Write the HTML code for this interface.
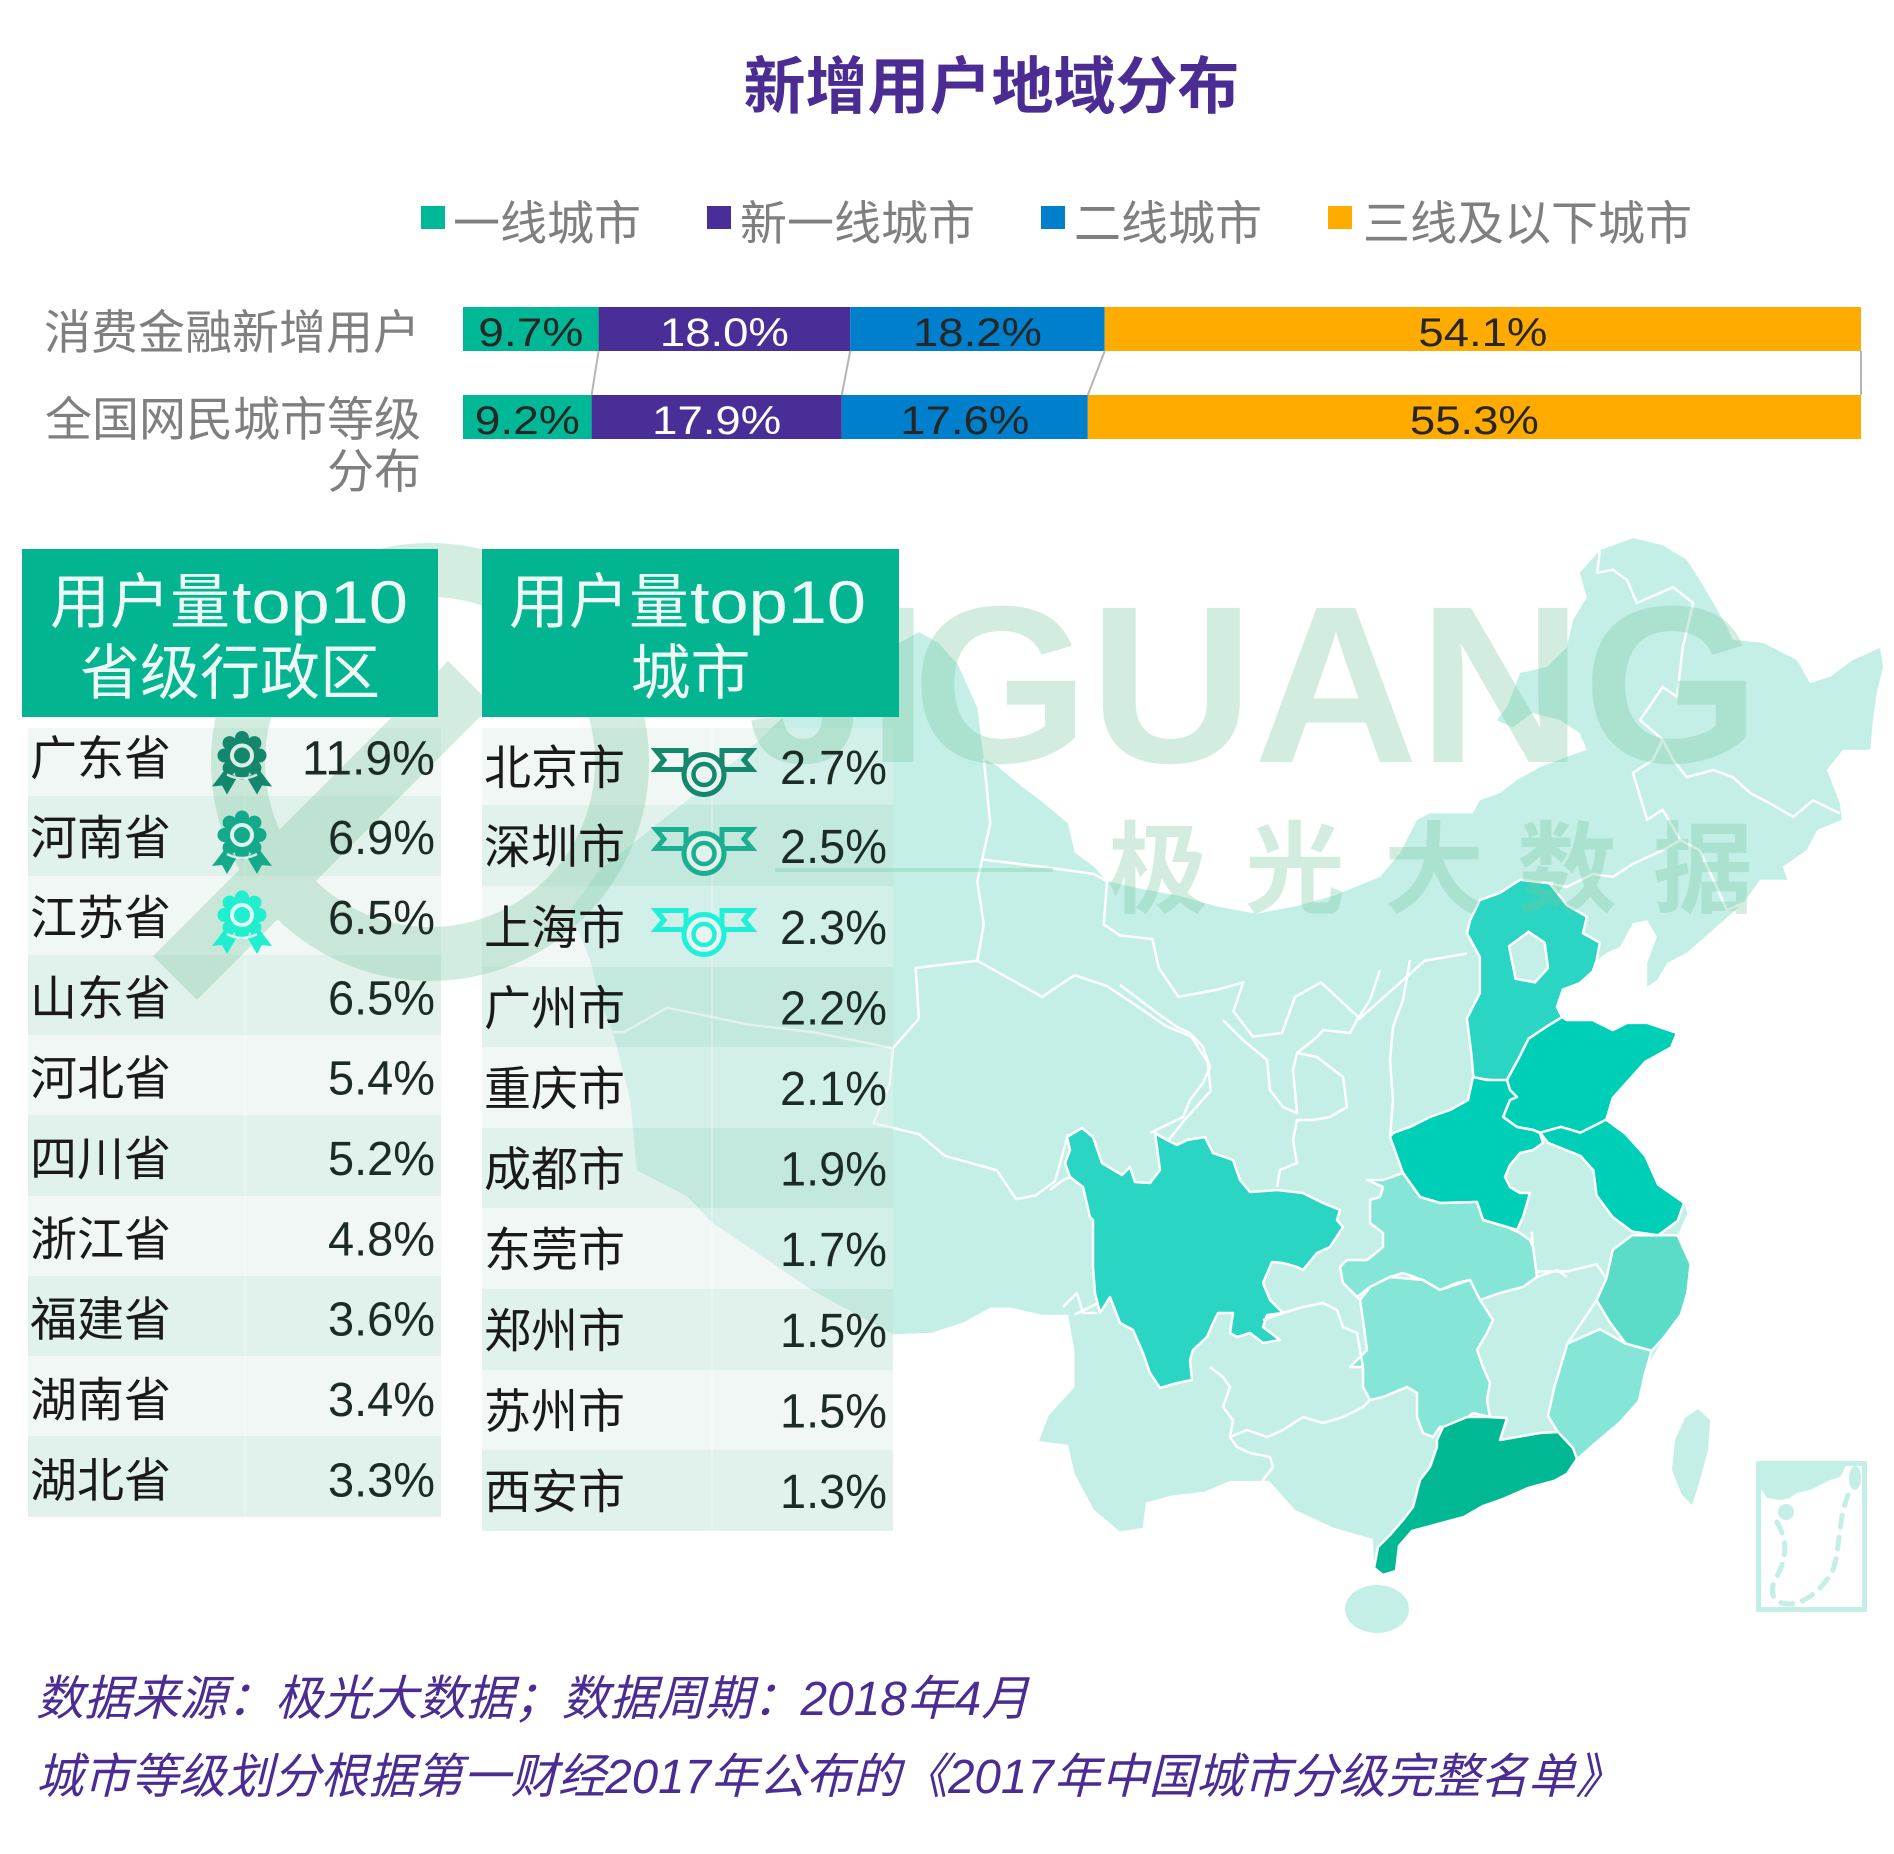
<!DOCTYPE html>
<html><head><meta charset="utf-8">
<style>
html,body{margin:0;padding:0;background:#fff;}
svg{display:block}
text{font-family:"Liberation Sans","Noto Sans CJK SC",sans-serif;}
</style></head><body>
<svg width="1894" height="1854" viewBox="0 0 1894 1854" xmlns="http://www.w3.org/2000/svg">
<rect width="1894" height="1854" fill="#fff"/>

<!-- Title -->
<text x="991.5" y="108" text-anchor="middle" font-size="62" font-weight="bold" fill="#4a2c92">新增用户地域分布</text>

<!-- Legend -->
<rect x="421" y="206" width="24" height="23" fill="#00b896"/>
<text x="453" y="240" font-size="47" fill="#7f7f7f">一线城市</text>
<rect x="707" y="206" width="24" height="23" fill="#482e96"/>
<text x="740" y="240" font-size="47" fill="#7f7f7f">新一线城市</text>
<rect x="1041" y="206" width="24" height="23" fill="#0080cc"/>
<text x="1074" y="240" font-size="47" fill="#7f7f7f">二线城市</text>
<rect x="1328" y="206" width="24" height="23" fill="#ffab00"/>
<text x="1363" y="240" font-size="47" fill="#7f7f7f">三线及以下城市</text>

<!-- Row labels -->
<text x="420" y="349" text-anchor="end" font-size="47" fill="#7f7f7f">消费金融新增用户</text>
<text x="421" y="436" text-anchor="end" font-size="47" fill="#7f7f7f">全国网民城市等级</text>
<text x="421" y="488" text-anchor="end" font-size="47" fill="#7f7f7f">分布</text>

<!-- Bars -->
<rect x="463" y="307" width="135.6" height="44" fill="#00b896"/>
<rect x="598.6" y="307" width="251.6" height="44" fill="#482e96"/>
<rect x="850.2" y="307" width="254.5" height="44" fill="#0080cc"/>
<rect x="1104.7" y="307" width="756.3" height="44" fill="#ffab00"/>
<rect x="463" y="395" width="128.6" height="44" fill="#00b896"/>
<rect x="591.6" y="395" width="250.2" height="44" fill="#482e96"/>
<rect x="841.8" y="395" width="246" height="44" fill="#0080cc"/>
<rect x="1087.8" y="395" width="773.2" height="44" fill="#ffab00"/>
<g stroke="#b5b5b5" stroke-width="2">
<line x1="598.6" y1="351" x2="591.6" y2="395"/>
<line x1="850.2" y1="351" x2="841.8" y2="395"/>
<line x1="1104.7" y1="351" x2="1087.8" y2="395"/>
<line x1="1861" y1="351" x2="1861" y2="395"/>
</g>
<g font-size="40">
<text x="478.3" y="346" textLength="105" lengthAdjust="spacingAndGlyphs" fill="#262626">9.7%</text>
<text x="659.9" y="346" textLength="129" lengthAdjust="spacingAndGlyphs" fill="#ffffff">18.0%</text>
<text x="913" y="346" textLength="129" lengthAdjust="spacingAndGlyphs" fill="#262626">18.2%</text>
<text x="1418.4" y="346" textLength="129" lengthAdjust="spacingAndGlyphs" fill="#262626">54.1%</text>
<text x="474.8" y="434" textLength="105" lengthAdjust="spacingAndGlyphs" fill="#262626">9.2%</text>
<text x="652.2" y="434" textLength="129" lengthAdjust="spacingAndGlyphs" fill="#ffffff">17.9%</text>
<text x="900.3" y="434" textLength="129" lengthAdjust="spacingAndGlyphs" fill="#262626">17.6%</text>
<text x="1409.9" y="434" textLength="129" lengthAdjust="spacingAndGlyphs" fill="#262626">55.3%</text>
</g>

<!-- ============ MAP ============ -->
<g transform="translate(880,520) scale(0.6485,0.7225)">
<polygon fill="#c3efe7" points="-46,194 0,175 30,170 60,155 90,170 120,200 150,260 160,330 180,340 220,370 250,390 290,420 300,460 330,480 350,500 400,510 460,520 520,535 580,545 640,535 700,520 771,494 802,461 828,415 848,406 914,406 925,388 956,378 982,360 1018,342 1059,328 1090,318 1079,295 1049,277 1006,267 976,287 951,277 967,259 987,212 1029,203 1059,176 1069,138 1090,107 1079,73 1110,42 1161,25 1207,35 1244,55 1264,83 1285,115 1306,148 1315,166 1362,170 1414,194 1434,226 1465,217 1500,194 1542,177 1547,203 1537,239 1531,277 1527,318 1485,318 1460,346 1480,392 1483,415 1445,429 1429,457 1392,480 1399,498 1357,498 1331,530 1285,567 1244,599 1214,613 1198,637 1183,646 1183,613 1198,577 1183,554 1161,558 1141,591 1121,599 1105,610 1099,625 1079,641 1053,650 1044,674 1052,688 1059,692 1099,692 1130,706 1152,696 1183,696 1229,710 1220,730 1180,750 1150,780 1130,800 1120,830 1150,850 1180,880 1200,920 1240,945 1245,960 1230,990 1250,1030 1245,1070 1235,1100 1210,1130 1190,1160 1180,1180 1170,1220 1140,1250 1100,1280 1075,1300 1060,1320 1040,1330 1000,1340 960,1355 930,1365 900,1380 860,1390 820,1400 800,1420 795,1455 775,1460 762,1450 760,1410 700,1395 640,1370 600,1330 540,1330 500,1345 450,1350 410,1360 405,1395 370,1400 330,1370 300,1320 290,1280 245,1275 260,1240 300,1200 300,1150 290,1100 250,1100 200,1090 170,1090 130,1110 80,1125 20,1127 -103,1067 -185,1017 -258,973 -298,936 -375,900 -385,803 -412,709 -432,664 -447,609 -478,540 -432,484 -355,429 -278,374 -185,304 -123,249"/>
<g fill="none" stroke="#ffffff" stroke-width="2.5" stroke-linejoin="round" vector-effect="non-scaling-stroke">
<polyline vector-effect="non-scaling-stroke" points="60,690 55,620 100,615 150,610 190,630 250,660 300,630 350,645 400,675 440,700 480,715 505,750 510,790 470,830 435,870"/>
<polyline vector-effect="non-scaling-stroke" points="-412,709 -395,709 -328,675 -205,698 -103,709 20,731 60,690"/>
<polyline vector-effect="non-scaling-stroke" points="20,731 15,780 -10,835 60,850 100,880 180,900 210,940 240,935 270,915 290,850"/>
<polyline vector-effect="non-scaling-stroke" points="160,330 170,420 150,500 160,560 150,610"/>
<polyline vector-effect="non-scaling-stroke" points="160,470 250,480 330,490 350,500 345,560 370,575 420,580 430,620 460,660 520,650 560,640 545,680 575,715 620,710 640,660 680,640 740,690 790,650 840,610 905,600"/>
<polyline vector-effect="non-scaling-stroke" points="1110,42 1106,73 1130,69 1152,83 1167,115 1223,93 1254,115 1238,176 1229,245 1207,231 1172,277 1207,304 1192,332 1161,350 1183,415 1207,401 1234,443"/>
<polyline vector-effect="non-scaling-stroke" points="1207,304 1223,332 1244,356 1285,346 1315,356 1342,378 1372,392 1408,411 1439,388 1480,406"/>
<polyline vector-effect="non-scaling-stroke" points="1234,443 1264,457 1285,498 1306,540 1331,530"/>
<polyline vector-effect="non-scaling-stroke" points="1033,503 1059,508 1099,490 1130,494 1161,476 1207,457 1234,443"/>
<polyline vector-effect="non-scaling-stroke" points="1005,985 1010,1040 1060,1040 1105,1030 1120,1050"/>
<polyline vector-effect="non-scaling-stroke" points="1105,1080 1060,1140"/>
<polyline vector-effect="non-scaling-stroke" points="345,1080 300,1100"/>
</g>
<!-- Hebei -->
<polygon fill="#2ad5c3" stroke="#fff" stroke-width="2.5" vector-effect="non-scaling-stroke" points="905,572 910,554 925,526 956,516 987,498 1033,503 1059,533 1090,549 1084,572 1110,585 1105,610 1099,625 1079,641 1053,650 1044,674 1052,688 1030,700 1000,718 985,745 965,778 915,772 912,740 905,690 925,655 925,605"/>
<polygon fill="#c3efe7" stroke="#fff" stroke-width="2.5" vector-effect="non-scaling-stroke" points="970,590 1000,570 1025,585 1030,620 1010,640 980,635"/>
<!-- Shandong -->
<polygon fill="#00cfb8" stroke="#fff" stroke-width="2.5" vector-effect="non-scaling-stroke" points="965,778 985,745 1000,718 1030,700 1052,688 1059,692 1099,692 1130,706 1152,696 1183,696 1229,710 1220,730 1180,750 1150,780 1130,800 1120,830 1080,848 1050,840 1018,848 1007,844 982,840 961,826 971,803"/>
<!-- Jiangsu -->
<polygon fill="#00cfb8" stroke="#fff" stroke-width="2.5" vector-effect="non-scaling-stroke" points="1018,848 1050,840 1080,848 1120,830 1150,850 1180,880 1200,920 1240,945 1230,970 1200,990 1160,985 1130,965 1105,935 1100,900 1080,880 1030,862"/>
<!-- Zhejiang -->
<polygon fill="#5adcc9" stroke="#fff" stroke-width="2.5" vector-effect="non-scaling-stroke" points="1130,1010 1160,990 1200,990 1230,990 1250,1030 1245,1070 1235,1100 1210,1130 1190,1150 1150,1140 1125,1110 1105,1080 1120,1050"/>
<!-- Fujian -->
<polygon fill="#85e5d6" stroke="#fff" stroke-width="2.5" vector-effect="non-scaling-stroke" points="1060,1140 1110,1120 1150,1140 1190,1150 1180,1180 1170,1220 1140,1250 1100,1280 1075,1300 1045,1262 1030,1240 1040,1200 1050,1170"/>
</g>

<!-- provinces in original coords -->
<g stroke="#fff" stroke-width="2.5" stroke-linejoin="round">
<!-- Sichuan -->
<polygon fill="#2ad5c3" points="1067,1137 1082,1128 1093,1137 1102,1163 1122,1175 1130,1167 1135,1182 1150,1183 1160,1170 1155,1133 1167,1140 1177,1145 1187,1140 1205,1137 1213,1153 1233,1160 1240,1180 1250,1192 1277,1190 1303,1193 1323,1203 1340,1210 1337,1220 1343,1227 1330,1247 1317,1253 1303,1270 1297,1267 1283,1263 1272,1262 1263,1283 1270,1300 1280,1310 1283,1313 1267,1315 1263,1327 1280,1340 1263,1343 1250,1333 1237,1337 1230,1333 1233,1313 1218,1313 1213,1323 1207,1337 1193,1350 1190,1360 1192,1380 1177,1383 1160,1388 1150,1373 1143,1353 1133,1330 1120,1323 1110,1297 1100,1313 1095,1293 1093,1267 1093,1220 1090,1217 1083,1187 1070,1177 1065,1163 1070,1150"/>
<!-- Henan -->
<polygon fill="#00cfb8" points="1390,1137 1403,1173 1420,1197 1440,1203 1477,1202 1483,1220 1507,1227 1517,1230 1523,1217 1530,1193 1520,1193 1510,1187 1505,1177 1510,1165 1520,1153 1533,1150 1543,1143 1540,1133 1533,1130 1517,1127 1503,1117 1510,1100 1517,1097 1510,1090 1507,1080 1487,1080 1473,1077 1468,1100 1450,1110 1430,1117 1410,1127 1393,1133"/>
<!-- Hubei -->
<polygon fill="#85e5d6" points="1367,1180 1383,1187 1380,1197 1370,1200 1370,1223 1383,1233 1383,1247 1367,1260 1347,1260 1340,1267 1343,1283 1357,1297 1370,1287 1390,1277 1403,1273 1423,1280 1440,1290 1457,1283 1470,1280 1480,1300 1500,1293 1523,1287 1537,1277 1533,1247 1530,1240 1520,1233 1507,1227 1483,1220 1477,1202 1440,1203 1420,1197 1403,1173 1383,1180"/>
<!-- Hunan -->
<polygon fill="#85e5d6" points="1360,1300 1370,1287 1390,1277 1423,1280 1440,1290 1470,1280 1480,1300 1493,1320 1487,1333 1477,1350 1483,1367 1490,1383 1487,1400 1490,1417 1473,1413 1457,1427 1440,1427 1433,1437 1423,1433 1417,1417 1417,1393 1407,1387 1383,1397 1370,1400 1363,1387 1363,1367 1350,1367 1367,1350 1363,1320"/>
<!-- Guangdong -->
<polygon fill="#00b894" points="1437,1440 1443,1427 1467,1417 1487,1417 1507,1418 1500,1440 1540,1433 1558,1432 1573,1448 1577,1459 1567,1474 1554,1481 1528,1488 1503,1499 1483,1506 1464,1517 1438,1524 1412,1531 1399,1546 1396,1571 1383,1575 1374,1568 1378,1547 1390,1535 1403,1520 1413,1507 1420,1480 1430,1467 1437,1447"/>
</g>
<g fill="none" stroke="#fff" stroke-width="2.5" stroke-linejoin="round">
<polyline points="1263,1320 1283,1313 1303,1307 1323,1303 1337,1310 1343,1327 1357,1333 1363,1367"/>
<polyline points="1210,1367 1223,1377 1230,1387 1223,1407 1233,1420 1230,1437 1247,1430 1267,1437 1283,1430 1303,1417 1323,1423 1343,1417 1363,1407 1370,1400"/>
<polyline points="1230,1437 1237,1447 1250,1453 1270,1457 1273,1467 1263,1480 1267,1490"/>
<polyline points="1390,1137 1393,1100 1390,1060 1393,1027 1403,1000 1410,960"/>
<polyline points="1223,1020 1243,1040 1267,1060 1270,1090 1283,1107 1297,1113 1293,1070 1297,1053 1317,1057 1343,1077 1347,1107 1330,1117 1313,1120 1297,1120 1293,1140 1297,1163 1280,1170 1277,1187"/>
<polyline points="1297,1053 1317,1037 1323,1030 1350,1033 1357,1020 1370,1000 1380,970"/>
<polyline points="1150,1133 1183,1117 1190,1100 1203,1083 1210,1067 1203,1047 1190,1033 1177,1027 1157,1013 1140,1000 1120,985"/>
<polyline points="1050,1190 1063,1180 1070,1177"/>
<polyline points="1097,1313 1083,1313 1077,1293 1063,1307"/>
<polyline points="1537,1277 1557,1270 1567,1277"/>
<polyline points="1343,1283 1357,1297 1360,1300"/>
</g>
<!-- Hainan, Taiwan -->
<ellipse cx="1377" cy="1609" rx="32" ry="24" fill="#c3efe7"/>
<polygon fill="#c3efe7" points="1698,1409 1710,1420 1708,1450 1700,1480 1692,1505 1682,1495 1672,1470 1675,1440 1685,1418"/>
<!-- South China Sea inset -->
<rect x="1758.5" y="1463.5" width="106" height="146" fill="none" stroke="#c3efe7" stroke-width="5"/>
<polygon fill="#c3efe7" points="1758,1461 1848,1461 1845,1467 1843,1472 1840,1477 1830,1480 1820,1485 1810,1490 1797,1493 1790,1498 1780,1500 1767,1498 1762,1490 1758,1490"/>
<circle cx="1786" cy="1512" r="8" fill="#c3efe7"/>
<ellipse cx="1855" cy="1478" rx="6" ry="12" fill="#c3efe7"/>
<path d="M1777,1522 C1790,1545 1785,1562 1775,1580 C1768,1595 1775,1604 1790,1604 C1810,1602 1825,1585 1833,1570 C1840,1550 1838,1520 1848,1495" fill="none" stroke="#c3efe7" stroke-width="5" stroke-dasharray="12 10" stroke-linecap="round"/>

<!-- ============ TABLE ROW BACKGROUNDS ============ -->
<g>
<rect x="28" y="728" width="413" height="68" fill="rgb(225,240,235)" fill-opacity="0.5"/>
<rect x="28" y="796" width="413" height="80" fill="rgb(195,228,215)" fill-opacity="0.5"/>
<rect x="28" y="876" width="413" height="79" fill="rgb(225,240,235)" fill-opacity="0.5"/>
<rect x="28" y="955" width="413" height="80" fill="rgb(195,228,215)" fill-opacity="0.5"/>
<rect x="28" y="1035" width="413" height="80" fill="rgb(225,240,235)" fill-opacity="0.5"/>
<rect x="28" y="1115" width="413" height="81" fill="rgb(195,228,215)" fill-opacity="0.5"/>
<rect x="28" y="1196" width="413" height="80" fill="rgb(225,240,235)" fill-opacity="0.5"/>
<rect x="28" y="1276" width="413" height="80" fill="rgb(195,228,215)" fill-opacity="0.5"/>
<rect x="28" y="1356" width="413" height="80" fill="rgb(225,240,235)" fill-opacity="0.5"/>
<rect x="28" y="1436" width="413" height="81" fill="rgb(195,228,215)" fill-opacity="0.5"/>
<line x1="245" y1="728" x2="245" y2="1517" stroke="#ffffff" stroke-opacity="0.5" stroke-width="1"/>

<rect x="482" y="728" width="411" height="77" fill="rgb(225,240,235)" fill-opacity="0.5"/>
<rect x="482" y="805" width="411" height="81" fill="rgb(195,228,215)" fill-opacity="0.5"/>
<rect x="482" y="886" width="411" height="81" fill="rgb(225,240,235)" fill-opacity="0.5"/>
<rect x="482" y="967" width="411" height="80" fill="rgb(195,228,215)" fill-opacity="0.5"/>
<rect x="482" y="1047" width="411" height="81" fill="rgb(225,240,235)" fill-opacity="0.5"/>
<rect x="482" y="1128" width="411" height="80" fill="rgb(195,228,215)" fill-opacity="0.5"/>
<rect x="482" y="1208" width="411" height="81" fill="rgb(225,240,235)" fill-opacity="0.5"/>
<rect x="482" y="1289" width="411" height="81" fill="rgb(195,228,215)" fill-opacity="0.5"/>
<rect x="482" y="1370" width="411" height="80" fill="rgb(225,240,235)" fill-opacity="0.5"/>
<rect x="482" y="1450" width="411" height="81" fill="rgb(195,228,215)" fill-opacity="0.5"/>
<line x1="712" y1="728" x2="712" y2="1531" stroke="#ffffff" stroke-opacity="0.5" stroke-width="1"/>
</g>

<!-- ============ WATERMARK ============ -->
<g opacity="0.33" fill="#78c8a0">
<circle cx="430" cy="762" r="192" fill="none" stroke="#78c8a0" stroke-width="54"/>
<line x1="175" y1="978" x2="470" y2="683" stroke="#78c8a0" stroke-width="62"/>
<text x="748" y="762" font-size="224" font-weight="bold" textLength="180" lengthAdjust="spacingAndGlyphs">JI</text>
<text x="912" y="762" font-size="224" font-weight="bold" textLength="848" lengthAdjust="spacingAndGlyphs">GUANG</text>
<g font-size="100" font-weight="bold">
<text x="1108" y="905">极</text>
<text x="1245" y="905">光</text>
<text x="1384" y="905">大</text>
<text x="1517" y="905">数</text>
<text x="1653" y="905">据</text>
</g>
<line x1="775" y1="870" x2="1053" y2="870" stroke="#78c8a0" stroke-width="4"/>
</g>

<!-- ============ HEADERS ============ -->
<rect x="22" y="549" width="416" height="168" fill="#02b490"/>
<rect x="482" y="549" width="417" height="168" fill="#02b490"/>
<g fill="#edf9f4" font-size="60">
<text x="50" y="623">用户量</text>
<text x="232" y="623" textLength="176" lengthAdjust="spacingAndGlyphs" font-family="DejaVu Sans, sans-serif">top10</text>
<text x="230" y="694" text-anchor="middle">省级行政区</text>
<text x="509" y="623">用户量</text>
<text x="690" y="623" textLength="176" lengthAdjust="spacingAndGlyphs" font-family="DejaVu Sans, sans-serif">top10</text>
<text x="690.5" y="694" text-anchor="middle">城市</text>
</g>

<!-- ============ TABLE TEXT ============ -->
<g font-size="47" fill="#1a1a1a">
<text x="30" y="775">广东省</text>
<text x="30" y="854.5">河南省</text>
<text x="30" y="934.5">江苏省</text>
<text x="30" y="1015">山东省</text>
<text x="30" y="1095">河北省</text>
<text x="30" y="1175.5">四川省</text>
<text x="30" y="1256">浙江省</text>
<text x="30" y="1336">福建省</text>
<text x="30" y="1416.5">湖南省</text>
<text x="30" y="1497">湖北省</text>

<text x="484" y="784.5">北京市</text>
<text x="484" y="863.5">深圳市</text>
<text x="484" y="944.5">上海市</text>
<text x="484" y="1025">广州市</text>
<text x="484" y="1105.5">重庆市</text>
<text x="484" y="1186">成都市</text>
<text x="484" y="1266.5">东莞市</text>
<text x="484" y="1347.5">郑州市</text>
<text x="484" y="1428">苏州市</text>
<text x="484" y="1508.5">西安市</text>
</g>
<g font-size="48" fill="#1c2b25">
<text x="302" y="774.5" textLength="133" lengthAdjust="spacingAndGlyphs">11.9%</text>
<text x="328" y="854" textLength="107" lengthAdjust="spacingAndGlyphs">6.9%</text>
<text x="328" y="934" textLength="107" lengthAdjust="spacingAndGlyphs">6.5%</text>
<text x="328" y="1014.5" textLength="107" lengthAdjust="spacingAndGlyphs">6.5%</text>
<text x="328" y="1094.5" textLength="107" lengthAdjust="spacingAndGlyphs">5.4%</text>
<text x="328" y="1175" textLength="107" lengthAdjust="spacingAndGlyphs">5.2%</text>
<text x="328" y="1255.5" textLength="107" lengthAdjust="spacingAndGlyphs">4.8%</text>
<text x="328" y="1335.5" textLength="107" lengthAdjust="spacingAndGlyphs">3.6%</text>
<text x="328" y="1416" textLength="107" lengthAdjust="spacingAndGlyphs">3.4%</text>
<text x="328" y="1496.5" textLength="107" lengthAdjust="spacingAndGlyphs">3.3%</text>

<text x="780" y="784" textLength="107" lengthAdjust="spacingAndGlyphs">2.7%</text>
<text x="780" y="863" textLength="107" lengthAdjust="spacingAndGlyphs">2.5%</text>
<text x="780" y="944" textLength="107" lengthAdjust="spacingAndGlyphs">2.3%</text>
<text x="780" y="1024.5" textLength="107" lengthAdjust="spacingAndGlyphs">2.2%</text>
<text x="780" y="1105" textLength="107" lengthAdjust="spacingAndGlyphs">2.1%</text>
<text x="780" y="1185.5" textLength="107" lengthAdjust="spacingAndGlyphs">1.9%</text>
<text x="780" y="1266" textLength="107" lengthAdjust="spacingAndGlyphs">1.7%</text>
<text x="780" y="1347" textLength="107" lengthAdjust="spacingAndGlyphs">1.5%</text>
<text x="780" y="1427.5" textLength="107" lengthAdjust="spacingAndGlyphs">1.5%</text>
<text x="780" y="1508" textLength="107" lengthAdjust="spacingAndGlyphs">1.3%</text>
</g>

<!-- Rosette icons -->
<g transform="translate(242,755.5)" fill="#12876c">
<circle r="18"/><circle cx="17.5" cy="0" r="7"/><circle cx="12.4" cy="12.4" r="7"/><circle cx="0" cy="17.5" r="7"/><circle cx="-12.4" cy="12.4" r="7"/><circle cx="-17.5" cy="0" r="7"/><circle cx="-12.4" cy="-12.4" r="7"/><circle cx="0" cy="-17.5" r="7"/><circle cx="12.4" cy="-12.4" r="7"/>
<polygon points="-17,14 -5,22 -15,39 -20,30 -30,31"/><polygon points="17,14 5,22 15,39 20,30 30,31"/>
<circle r="10" fill="none" stroke="#ffffff" stroke-opacity="0.85" stroke-width="4"/>
<path d="M-15,19 Q0,27 15,19" fill="none" stroke="#ffffff" stroke-opacity="0.8" stroke-width="2.5"/>
</g>
<g transform="translate(242,835)" fill="#14a98a">
<circle r="18"/><circle cx="17.5" cy="0" r="7"/><circle cx="12.4" cy="12.4" r="7"/><circle cx="0" cy="17.5" r="7"/><circle cx="-12.4" cy="12.4" r="7"/><circle cx="-17.5" cy="0" r="7"/><circle cx="-12.4" cy="-12.4" r="7"/><circle cx="0" cy="-17.5" r="7"/><circle cx="12.4" cy="-12.4" r="7"/>
<polygon points="-17,14 -5,22 -15,39 -20,30 -30,31"/><polygon points="17,14 5,22 15,39 20,30 30,31"/>
<circle r="10" fill="none" stroke="#ffffff" stroke-opacity="0.85" stroke-width="4"/>
<path d="M-15,19 Q0,27 15,19" fill="none" stroke="#ffffff" stroke-opacity="0.8" stroke-width="2.5"/>
</g>
<g transform="translate(242,915)" fill="#20eecf">
<circle r="18"/><circle cx="17.5" cy="0" r="7"/><circle cx="12.4" cy="12.4" r="7"/><circle cx="0" cy="17.5" r="7"/><circle cx="-12.4" cy="12.4" r="7"/><circle cx="-17.5" cy="0" r="7"/><circle cx="-12.4" cy="-12.4" r="7"/><circle cx="0" cy="-17.5" r="7"/><circle cx="12.4" cy="-12.4" r="7"/>
<polygon points="-17,14 -5,22 -15,39 -20,30 -30,31"/><polygon points="17,14 5,22 15,39 20,30 30,31"/>
<circle r="10" fill="none" stroke="#ffffff" stroke-opacity="0.85" stroke-width="4"/>
<path d="M-15,19 Q0,27 15,19" fill="none" stroke="#ffffff" stroke-opacity="0.8" stroke-width="2.5"/>
</g>

<!-- Candy icons -->
<g transform="translate(704,774.5)" fill="none" stroke="#14876d" stroke-width="5" stroke-linejoin="miter">
<polygon points="-48,-24 -18,-24 -18,-5 -48,-5 -40,-14.5"/>
<polygon points="48,-24 18,-24 18,-5 48,-5 40,-14.5"/>
<circle r="20" fill="#eaf5f1"/>
<circle r="10.5" stroke-width="4.5"/>
</g>
<g transform="translate(704,853.5)" fill="none" stroke="#1cae90" stroke-width="5" stroke-linejoin="miter">
<polygon points="-48,-24 -18,-24 -18,-5 -48,-5 -40,-14.5"/>
<polygon points="48,-24 18,-24 18,-5 48,-5 40,-14.5"/>
<circle r="20" fill="#e2f1eb"/>
<circle r="10.5" stroke-width="4.5"/>
</g>
<g transform="translate(704,934.5)" fill="none" stroke="#20f0d8" stroke-width="5" stroke-linejoin="miter">
<polygon points="-48,-24 -18,-24 -18,-5 -48,-5 -40,-14.5"/>
<polygon points="48,-24 18,-24 18,-5 48,-5 40,-14.5"/>
<circle r="20" fill="#eaf5f1"/>
<circle r="10.5" stroke-width="4.5"/>
</g>

<!-- Footer -->
<text x="36" y="1715" font-size="48" font-style="italic" fill="#4a2c92" textLength="993" lengthAdjust="spacingAndGlyphs">数据来源：极光大数据；数据周期：2018年4月</text>
<text x="36" y="1793" font-size="48" font-style="italic" fill="#4a2c92" textLength="1587" lengthAdjust="spacingAndGlyphs">城市等级划分根据第一财经2017年公布的《2017年中国城市分级完整名单》</text>
</svg>
</body></html>
